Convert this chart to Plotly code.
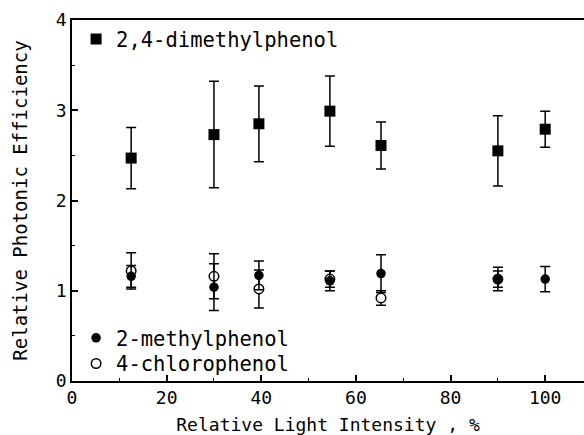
import plotly.graph_objects as go

# Relative light intensity (%)
x_dmp = [12.5, 30, 39.5, 54.5, 65.3, 90, 100]
y_dmp = [2.47, 2.73, 2.85, 2.99, 2.61, 2.55, 2.79]
e_dmp = [0.34, 0.59, 0.42, 0.39, 0.26, 0.39, 0.20]

x_mp = [12.5, 30, 39.5, 54.5, 65.3, 90, 100]
y_mp = [1.16, 1.04, 1.17, 1.11, 1.19, 1.13, 1.13]
e_mp = [0.12, 0.26, 0.16, 0.11, 0.21, 0.13, 0.14]

x_cp = [12.5, 30, 39.5, 54.5, 65.3, 90]
y_cp = [1.22, 1.16, 1.02, 1.13, 0.92, 1.13]
e_cp = [0.20, 0.25, 0.21, 0.09, 0.08, 0.09]

x_ticks = [0, 20, 40, 60, 80, 100]
y_ticks = [0, 1, 2, 3, 4]

FONT = "DejaVu Sans Mono"
LEG_FONT = dict(family=FONT, size=20.5, color="black")

fig = go.Figure()

fig.add_trace(go.Scatter(
    x=x_dmp, y=y_dmp, mode="markers", name="2,4-dimethylphenol",
    marker=dict(symbol="square", size=11, color="black"),
    error_y=dict(type="data", array=e_dmp, color="black", thickness=1.5, width=5),
    legend="legend",
))
fig.add_trace(go.Scatter(
    x=x_cp, y=y_cp, mode="markers", name="4-chlorophenol",
    marker=dict(symbol="circle", size=9.5, color="white", line=dict(color="black", width=1.5)),
    error_y=dict(type="data", array=e_cp, color="black", thickness=1.5, width=5),
    legend="legend3",
))
fig.add_trace(go.Scatter(
    x=x_mp, y=y_mp, mode="markers", name="2-methylphenol",
    marker=dict(symbol="circle", size=9.5, color="black"),
    error_y=dict(type="data", array=e_mp, color="black", thickness=1.5, width=5),
    legend="legend2",
))

axis_common = dict(
    showgrid=False, zeroline=False, showline=True, linecolor="black", linewidth=1.5,
    ticks="inside", ticklen=6, tickwidth=1.5, tickcolor="black",
    tickfont=dict(family=FONT, size=18, color="black"),
)

legend_common = dict(
    xanchor="left", yanchor="middle", font=LEG_FONT,
    bgcolor="rgba(0,0,0,0)", borderwidth=0,
)

fig.update_layout(
    width=584, height=435,
    margin=dict(l=72, r=0, t=20, b=54),
    paper_bgcolor="white", plot_bgcolor="white",
    font=dict(family=FONT, color="black"),
    xaxis=dict(
        range=[0, 108.2], tickvals=x_ticks, mirror=True,
        minor=dict(dtick=10, ticks="inside", ticklen=3, tickcolor="black", tickwidth=1),
        title=dict(text="Relative Light Intensity , %", font=dict(family=FONT, size=18), standoff=11),
        **axis_common,
    ),
    yaxis=dict(
        range=[0, 4], tickvals=y_ticks,
        minor=dict(dtick=0.5, ticks="inside", ticklen=3, tickcolor="black", tickwidth=1),
        title=dict(text="Relative Photonic Efficiency", font=dict(family=FONT, size=19), standoff=23),
        **axis_common,
    ),
    legend=dict(x=0.008, y=0.947, **legend_common),
    legend2=dict(x=0.008, y=0.119, **legend_common),
    legend3=dict(x=0.008, y=0.048, **legend_common),
    showlegend=True,
)

fig.write_html("out.html")
